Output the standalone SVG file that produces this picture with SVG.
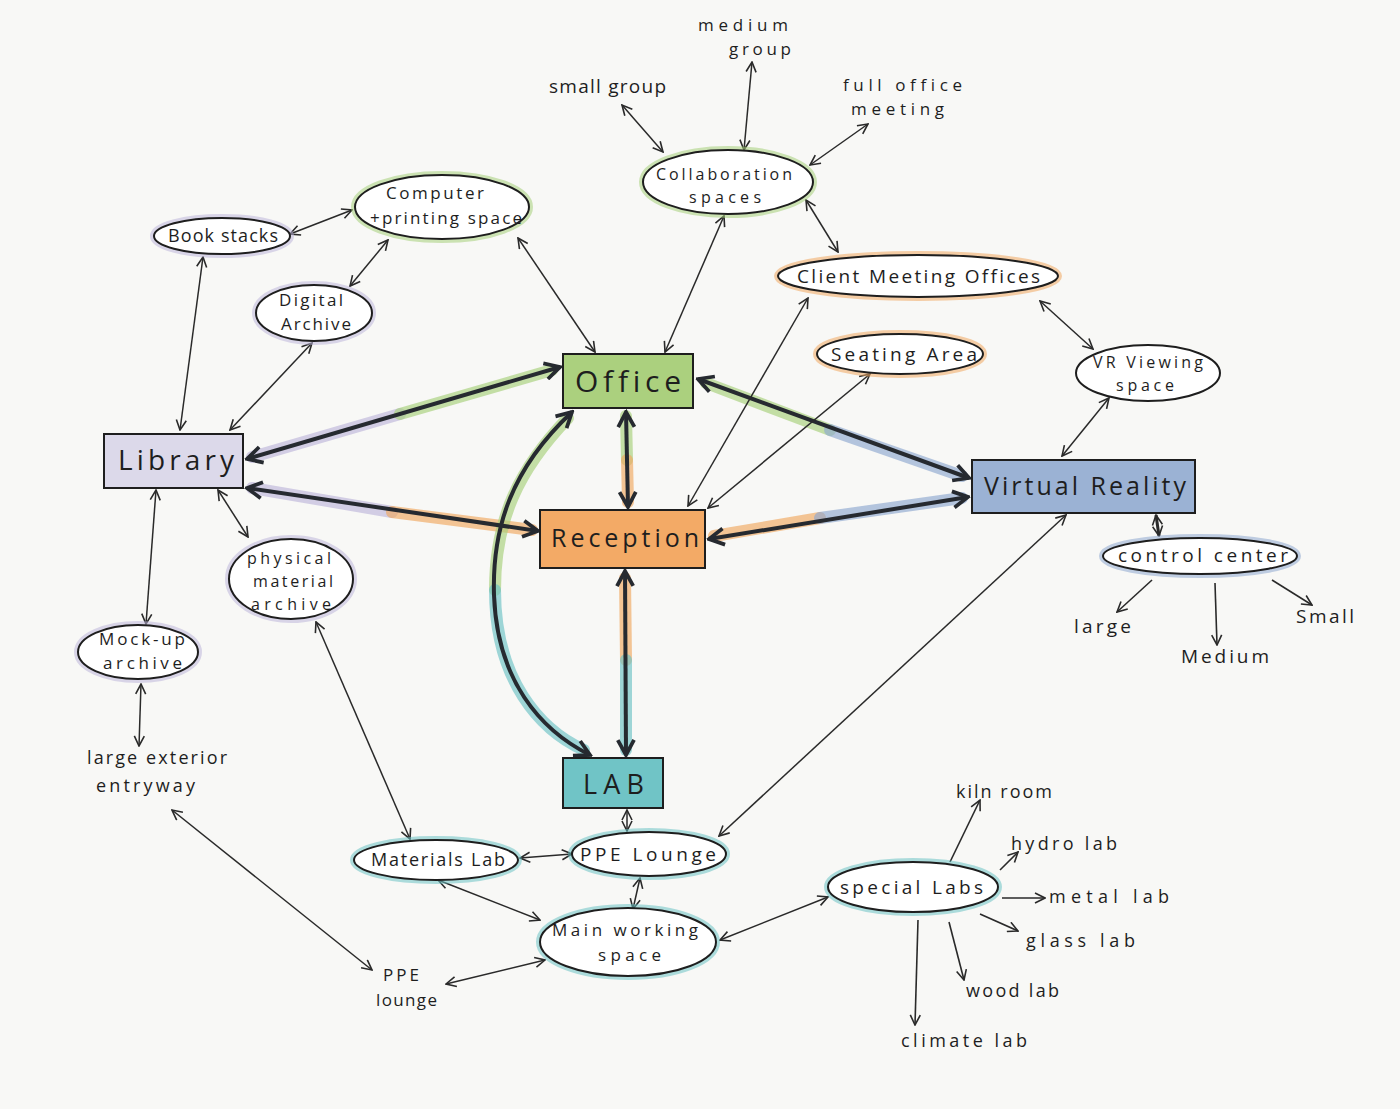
<svg xmlns="http://www.w3.org/2000/svg" width="1400" height="1109" viewBox="0 0 1400 1109">
<defs>
<style>
text{font-family:"Open Sans","Liberation Sans",sans-serif;fill:#1e1e1e;text-anchor:start;font-variant-ligatures:none}
.t{font-size:19px}
.tl{font-size:18px}
.m{font-size:17px}
.s{font-size:16px}
.big{font-size:26px}
.ell{fill:#ffffff;stroke:#1e1e1e;stroke-width:2}
.halo{fill:none;stroke-width:8;opacity:0.55}
.box{stroke:#1e1e1e;stroke-width:2}
.thin{fill:none;stroke:#2a2a2a;stroke-width:1.5;marker-end:url(#ah);marker-start:url(#ah)}
.one{fill:none;stroke:#2a2a2a;stroke-width:1.6;marker-end:url(#ah)}
.thick{fill:none;stroke:#262a30;stroke-width:4;marker-end:url(#ahb);marker-start:url(#ahb)}
.hl{fill:none;stroke-width:12;stroke-linecap:round;opacity:0.65}
.g{stroke:#a6cf7a}.p{stroke:#bdb6da}.o{stroke:#f0a860}.b{stroke:#8ea8cf}.c{stroke:#6cc2c4}
</style>
<marker id="ah" viewBox="0 0 12 12" refX="11" refY="6" markerWidth="12" markerHeight="12" markerUnits="userSpaceOnUse" orient="auto-start-reverse">
<path d="M1,1 L11,6 L1,11" fill="none" stroke="#2a2a2a" stroke-width="1.6"/>
</marker>
<marker id="ahb" viewBox="0 0 16 16" refX="14" refY="8" markerWidth="20" markerHeight="20" markerUnits="userSpaceOnUse" orient="auto-start-reverse">
<path d="M2,1.5 L14,8 L2,14.5" fill="none" stroke="#262a30" stroke-width="3"/>
</marker>
</defs>
<rect width="1400" height="1109" fill="#f8f8f6"/>

<g id="connectors">
<!-- colored highlights -->
<path class="hl p" d="M252,457 L400,414"/>
<path class="hl g" d="M400,414 L552,370"/>
<path class="hl p" d="M252,488 L392,512"/>
<path class="hl o" d="M392,512 L532,530"/>
<path class="hl g" d="M626,416 L627,460"/>
<path class="hl o" d="M627,460 L628,502"/>
<path class="hl g" d="M706,383 L830,430"/>
<path class="hl b" d="M830,430 L962,476"/>
<path class="hl o" d="M714,536 L820,518"/>
<path class="hl b" d="M820,518 L962,498"/>
<path class="hl o" d="M625,578 L626,660"/>
<path class="hl c" d="M626,660 L626,750"/>
<path class="hl g" d="M568,418 C518,470 495,520 495,590"/>
<path class="hl c" d="M495,590 C495,680 540,730 584,750"/>

<!-- top collaboration cluster -->
<line class="thin" x1="622" y1="105" x2="663" y2="152"/>
<line class="thin" x1="752" y1="62" x2="744" y2="150"/>
<line class="thin" x1="868" y1="124" x2="810" y2="165"/>
<line class="thin" x1="806" y1="200" x2="838" y2="252"/>
<line class="thin" x1="724" y1="216" x2="665" y2="352"/>
<line class="thin" x1="518" y1="238" x2="595" y2="352"/>
<line class="thin" x1="290" y1="234" x2="352" y2="210"/>
<line class="thin" x1="388" y1="240" x2="350" y2="286"/>
<line class="thin" x1="203" y1="257" x2="180" y2="430"/>
<line class="thin" x1="312" y1="343" x2="230" y2="430"/>

<!-- thick main -->
<line class="thick" x1="247" y1="459" x2="560" y2="367"/>
<line class="thick" x1="247" y1="488" x2="538" y2="531"/>
<line class="thick" x1="626" y1="412" x2="628" y2="507"/>
<line class="thick" x1="698" y1="379" x2="969" y2="478"/>
<line class="thick" x1="709" y1="539" x2="968" y2="497"/>
<line class="thick" x1="625" y1="571" x2="626" y2="755"/>
<path class="thick" d="M572,412 C510,470 492,530 494,595 C497,680 540,730 590,755"/>

<!-- library side -->
<line class="thin" x1="218" y1="490" x2="248" y2="537"/>
<line class="thin" x1="156" y1="490" x2="146" y2="624"/>
<line class="thin" x1="141" y1="684" x2="139" y2="746"/>
<line class="thin" x1="172" y1="810" x2="372" y2="970"/>
<line class="thin" x1="316" y1="622" x2="410" y2="839"/>

<!-- orange thin lines -->
<line class="thin" x1="808" y1="298" x2="688" y2="506" stroke="#8a4a1a"/>
<line class="thin" x1="870" y1="374" x2="708" y2="508" stroke="#8a4a1a"/>

<!-- VR cluster -->
<line class="thin" x1="1040" y1="301" x2="1093" y2="349"/>
<line class="thin" x1="1109" y1="398" x2="1062" y2="456"/>
<line class="thin" x1="1156" y1="515" x2="1159" y2="536" style="stroke-width:3"/>
<line class="one" x1="1152" y1="580" x2="1117" y2="612"/>
<line class="one" x1="1215" y1="583" x2="1217" y2="645"/>
<line class="one" x1="1272" y1="580" x2="1312" y2="605"/>
<line class="thin" x1="1066" y1="515" x2="719" y2="836"/>

<!-- lab cluster -->
<line class="thin" x1="627" y1="810" x2="627" y2="831"/>
<line class="thin" x1="520" y1="858" x2="572" y2="854"/>
<line class="thin" x1="438" y1="880" x2="540" y2="920"/>
<line class="thin" x1="640" y1="878" x2="633" y2="909"/>
<line class="thin" x1="545" y1="960" x2="446" y2="984"/>
<line class="thin" x1="720" y1="940" x2="828" y2="897"/>
<line class="one" x1="950" y1="862" x2="980" y2="800"/>
<line class="one" x1="1000" y1="870" x2="1018" y2="852"/>
<line class="one" x1="1002" y1="898" x2="1045" y2="898"/>
<line class="one" x1="980" y1="914" x2="1018" y2="931"/>
<line class="one" x1="949" y1="922" x2="964" y2="980"/>
<line class="one" x1="918" y1="920" x2="915" y2="1025"/>
</g>

<!-- free text labels -->
<g id="n-medium-group"><text class="m" x="698" y="31" textLength="90">medium</text><text class="m" x="729" y="55" textLength="62">group</text></g>
<g id="n-small-group"><text class="t" x="549" y="93" textLength="117">small group</text></g>
<g id="n-full-office"><text class="m" x="843" y="91" textLength="119">full office</text><text class="m" x="851" y="115" textLength="93">meeting</text></g>

<g id="n-collab"><ellipse cx="728" cy="182" rx="85" ry="32" class="halo g"/><ellipse cx="728" cy="182" rx="85" ry="32" class="ell"/><text class="s" x="656" y="180" textLength="136">Collaboration</text><text class="s" x="689" y="203" textLength="72">spaces</text></g>
<g id="n-computer"><ellipse cx="442" cy="207" rx="87" ry="32" class="halo g"/><ellipse cx="442" cy="207" rx="87" ry="32" class="ell"/><text class="m" x="386" y="199" textLength="98">Computer</text><text class="m" x="370" y="224" textLength="152">+printing space</text></g>
<g id="n-bookstacks"><ellipse cx="222" cy="236" rx="68" ry="18" class="halo p"/><ellipse cx="222" cy="236" rx="68" ry="18" class="ell"/><text class="tl" x="168" y="242" textLength="110">Book stacks</text></g>
<g id="n-digital"><ellipse cx="314" cy="313" rx="58" ry="28" class="halo p"/><ellipse cx="314" cy="313" rx="58" ry="28" class="ell"/><text class="m" x="279" y="306" textLength="64">Digital</text><text class="m" x="281" y="330" textLength="70">Archive</text></g>
<g id="n-client"><ellipse cx="918" cy="276" rx="140" ry="21" class="halo o"/><ellipse cx="918" cy="276" rx="140" ry="21" class="ell"/><text class="t" x="797" y="283" textLength="243">Client Meeting Offices</text></g>
<g id="n-seating"><ellipse cx="900" cy="354" rx="83" ry="20" class="halo o"/><ellipse cx="900" cy="354" rx="83" ry="20" class="ell"/><text class="t" x="831" y="361" textLength="146">Seating Area</text></g>
<g id="n-vrview"><ellipse cx="1148" cy="373" rx="72" ry="28" class="ell"/><text class="s" x="1093" y="368" textLength="110">VR Viewing</text><text class="s" x="1116" y="391" textLength="58">space</text></g>

<g id="n-office"><rect x="563" y="354" width="130" height="54" class="box" fill="#abd07e"/><text class="big" x="575" y="392" textLength="106" style="font-size:30px">Office</text></g>
<g id="n-library"><rect x="104" y="434" width="139" height="54" class="box" fill="#dcd9ea"/><text class="big" x="118" y="470" textLength="116" style="font-size:28px">Library</text></g>
<g id="n-reception"><rect x="540" y="510" width="165" height="58" class="box" fill="#f3aa66"/><text class="big" x="551" y="547" textLength="148" style="font-size:25px">Reception</text></g>
<g id="n-vr"><rect x="972" y="460" width="223" height="53" class="box" fill="#9bb2d4"/><text class="big" x="984" y="495" textLength="202" style="font-size:25px">Virtual Reality</text></g>
<g id="n-control"><ellipse cx="1200" cy="556" rx="97" ry="18" class="halo b"/><ellipse cx="1200" cy="556" rx="97" ry="18" class="ell"/><text class="t" x="1118" y="562" textLength="170">control center</text></g>
<g id="n-large"><text class="t" x="1074" y="633" textLength="57">large</text></g>
<g id="n-medium"><text class="t" x="1181" y="663" textLength="88">Medium</text></g>
<g id="n-small"><text class="t" x="1296" y="623" textLength="58">Small</text></g>

<g id="n-physical"><ellipse cx="291" cy="579" rx="62" ry="40" class="halo p"/><ellipse cx="291" cy="579" rx="62" ry="40" class="ell"/><text class="s" x="247" y="564" textLength="84">physical</text><text class="s" x="253" y="587" textLength="80">material</text><text class="s" x="251" y="610" textLength="80">archive</text></g>
<g id="n-mockup"><ellipse cx="138" cy="652" rx="60" ry="27" class="halo p"/><ellipse cx="138" cy="652" rx="60" ry="27" class="ell"/><text class="m" x="99" y="645" textLength="86">Mock-up</text><text class="m" x="103" y="669" textLength="79">archive</text></g>
<g id="n-entry"><text class="tl" x="87" y="764" textLength="140">large exterior</text><text class="tl" x="96" y="792" textLength="99">entryway</text></g>

<g id="n-lab"><rect x="563" y="758" width="100" height="50" class="box" fill="#70c4c6"/><text class="big" x="583" y="794" textLength="61" style="font-size:27px">LAB</text></g>
<g id="n-materials"><ellipse cx="436" cy="860" rx="82" ry="20" class="halo c"/><ellipse cx="436" cy="860" rx="82" ry="20" class="ell"/><text class="tl" x="371" y="866" textLength="134">Materials Lab</text></g>
<g id="n-ppelounge"><ellipse cx="649" cy="854" rx="77" ry="22" class="halo c"/><ellipse cx="649" cy="854" rx="77" ry="22" class="ell"/><text class="t" x="580" y="861" textLength="136">PPE Lounge</text></g>
<g id="n-main"><ellipse cx="628" cy="942" rx="88" ry="34" class="halo c"/><ellipse cx="628" cy="942" rx="88" ry="34" class="ell"/><text class="m" x="552" y="936" textLength="146">Main working</text><text class="m" x="598" y="961" textLength="63">space</text></g>
<g id="n-ppe2"><text class="m" x="383" y="981" textLength="36">PPE</text><text class="m" x="376" y="1006" textLength="61">lounge</text></g>
<g id="n-special"><ellipse cx="913" cy="887" rx="85" ry="25" class="halo c"/><ellipse cx="913" cy="887" rx="85" ry="25" class="ell"/><text class="t" x="840" y="894" textLength="143">special Labs</text></g>
<g id="n-kiln"><text class="tl" x="956" y="798" textLength="96">kiln room</text></g>
<g id="n-hydro"><text class="tl" x="1011" y="850" textLength="106">hydro lab</text></g>
<g id="n-metal"><text class="tl" x="1049" y="903" textLength="120">metal lab</text></g>
<g id="n-glass"><text class="tl" x="1026" y="947" textLength="109">glass lab</text></g>
<g id="n-wood"><text class="tl" x="966" y="997" textLength="93">wood lab</text></g>
<g id="n-climate"><text class="tl" x="901" y="1047" textLength="126">climate lab</text></g>
</svg>
